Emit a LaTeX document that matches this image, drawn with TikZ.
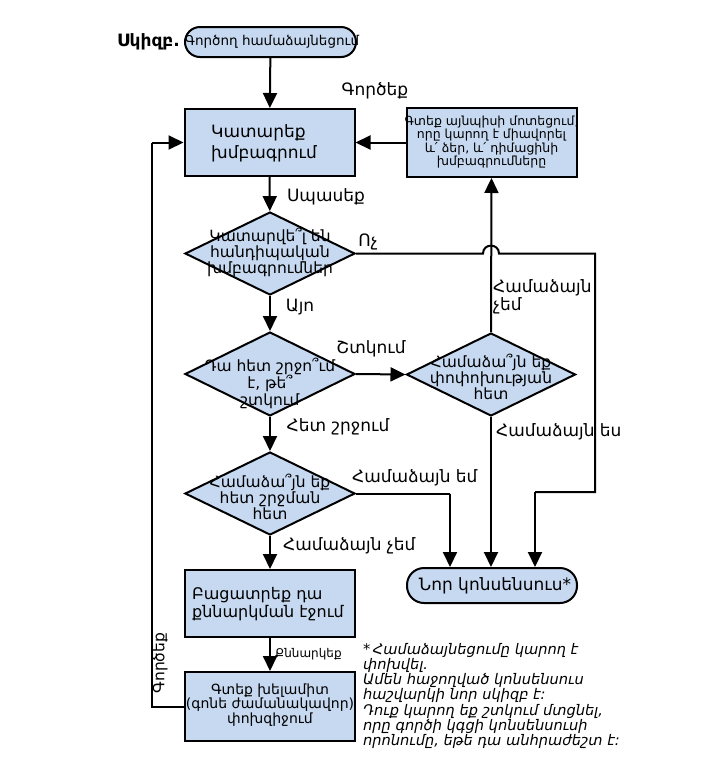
\documentclass[tikz,border=0pt]{standalone}
\usepackage{fontspec}
\setmainfont{DejaVu Sans}
\usetikzlibrary{arrows.meta,shapes.geometric}
\definecolor{fillblue}{RGB}{198,217,241}
\newcommand\fsz[2]{\fontsize{#1}{#2}\selectfont}
\tikzset{
  ln/.style={line width=2pt, line join=miter},
  arr/.style={line width=2pt, -{Triangle[length=15pt,width=14pt]}},
  box/.style={draw, line width=2pt, fill=fillblue, inner sep=0, minimum width=170pt},
  dia/.style={draw, diamond, line width=2pt, fill=fillblue, inner sep=0, minimum width=170pt, minimum height=83pt},
  term/.style={draw, line width=2pt, fill=fillblue, inner sep=0},
  txt/.style={align=center, inner sep=0},
  lab/.style={inner sep=0, font=\fsz{17}{18}},
}
\begin{document}
\begin{tikzpicture}[x=1pt,y=-1pt]
\useasboundingbox (0,0) rectangle (728,764);
% nodes
\node[term, rounded corners=15pt, minimum width=171pt, minimum height=30pt] (start) at (270.5,42) {};
\node[txt, font=\fsz{13.5}{16}] (startT) at (272,42) {Գործող համաձայնեցում};
\node[inner sep=0, anchor=east, font=\bfseries\fsz{17}{18}] (skizb) at (180,42) {Սկիզբ.};

\node[box, minimum height=67pt] (box1) at (269.5,142.5) {};
\node[txt, font=\fsz{17}{21}, align=left] (box1T) at (264,143) {Կատարեք\\խմբագրում};

\node[box, minimum height=69pt] (rbox) at (491.5,142.5) {};
\node[txt, font=\fsz{12.5}{13.5}] (rboxT) at (491.5,142) {Գտեք այնպիսի մոտեցում,\\որը կարող է միավորել\\և՛ ձեր, և՛ դիմացինի\\խմբագրումները};

\node[dia] (d1) at (270,253.5) {};
\node[txt, font=\fsz{15.5}{14.5}] (d1T) at (270,252.5) {Կատարվե՞լ են\\հանդիպական\\խմբագրումներ};

\node[dia, minimum height=84pt] (d2) at (270,374) {};
\node[txt, font=\fsz{15.5}{16.5}] (d2T) at (270,383) {Դա հետ շրջո՞ւմ\\է, թե՞\\շտկում};

\node[dia, minimum width=169pt] (d3) at (491,374.5) {};
\node[txt, font=\fsz{15.5}{15}] (d3T) at (491,377) {Համաձա՞յն եք\\փոփոխության\\հետ};

\node[dia] (d4) at (270,493.5) {};
\node[txt, font=\fsz{15.5}{15}] (d4T) at (270,497) {Համաձա՞յն եք\\հետ շրջման\\հետ};

\node[box, minimum height=67pt] (bbox) at (270,603.5) {};
\node[txt, font=\fsz{16}{18}, align=left] (bboxT) at (268,604) {Բացատրեք դա\\քննարկման էջում};

\node[term, rounded corners=17pt, minimum width=170pt, minimum height=35pt] (fin) at (492,585.5) {};
\node[txt, font=\fsz{17}{18}] (finT) at (495,585.5) {Նոր կոնսենսուս*};

\node[box, minimum height=69pt] (cbox) at (270,706.5) {};
\node[txt, font=\fsz{14}{13.5}] (cboxT) at (270,705) {Գտեք խելամիտ\\(գոնե ժամանակավոր)\\փոխզիջում};

\node[inner sep=0, anchor=north west, align=left, font=\itshape\fsz{14.6}{15.2}] (note) at (363,643)
{*\,Համաձայնեցումը կարող է\\փոխվել.\\Ամեն հաջողված կոնսենսուս\\հաշվարկի նոր սկիզբ է:\\Դուք կարող եք շտկում մտցնել,\\որը գործի կգցի կոնսենսուսի\\որոնումը, եթե դա անհրաժեշտ է:};

% coordinates
\coordinate (h1) at (483,253.5);
\coordinate (h2) at (499,253.5);
\coordinate (c1) at (595,253.5);
\coordinate (c2) at (595,492);
\coordinate (c3) at (535,492);
\coordinate (c4) at (450,493.5);
\coordinate (c5) at (152,706.5);
\coordinate (c6) at (152,142.5);

% connectors
\draw[arr] (start) -- (box1);
\draw[arr] (rbox) -- (box1);
\draw[arr] (box1) -- (d1);
\draw[ln] (d1.east) -- (h1) .. controls (483,243) and (499,243) .. (h2) -- (c1) -- (c2) -- (c3);
\draw[arr] (c3) -- (c3 |- fin.north);
\draw[arr] (d1) -- (d2);
\draw[arr] (d2.east) -- (d3.west);
\draw[arr] (d3.north) -- (rbox.south);
\draw[arr] (d3.south) -- (d3.south |- fin.north);
\draw[arr] (d2) -- (d4);
\draw[ln] (d4.east) -- (c4);
\draw[arr] (c4) -- (c4 |- fin.north);
\draw[arr] (d4) -- (bbox);
\draw[arr] (bbox) -- (cbox);
\draw[ln] (cbox.west) -- (c5) -- (c6);
\draw[arr] (c6) -- (box1.west);

% labels
\node[lab] (lGo) at (375,91) {Գործեք};
\node[lab] (lWait) at (326,197) {Սպասեք};
\node[lab] (lNo) at (368,242) {Ոչ};
\node[lab] (lYes) at (300,307) {Այո};
\node[lab, anchor=west, align=left, font=\fsz{17}{18}] (lDis1) at (493,297) {Համաձայն\\չեմ};
\node[lab] (lEdit) at (371,349) {Շտկում};
\node[lab] (lRev) at (338,427) {Հետ շրջում};
\node[lab, anchor=west] (lAgr1) at (496,432) {Համաձայն ես};
\node[lab, anchor=west] (lAgr2) at (352,478) {Համաձայն եմ};
\node[lab, anchor=west] (lDis2) at (283,546) {Համաձայն չեմ};
\node[lab, anchor=west, font=\fsz{12}{14}] (lDisc) at (275,654) {Քննարկեք};
\node[lab, rotate=90, font=\fsz{15.5}{16}] (lGo2) at (160,663) {Գործեք};
\end{tikzpicture}
\end{document}
